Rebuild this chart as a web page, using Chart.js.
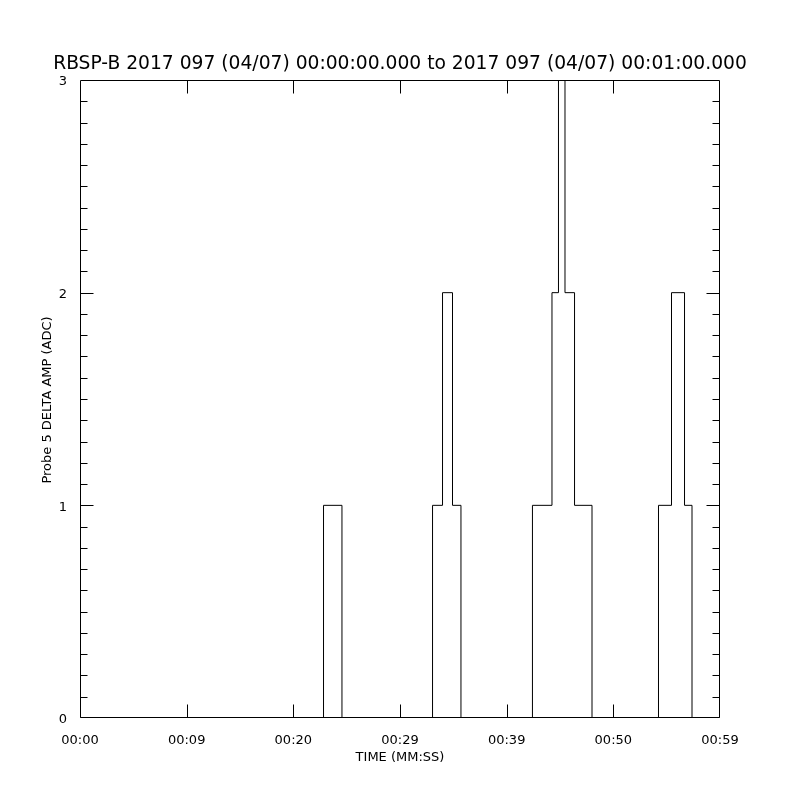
<!DOCTYPE html>
<html>
<head>
<meta charset="UTF-8">
<title>RBSP-B Probe 5 DELTA AMP</title>
<style>
body {
	margin: 0;
	background: white;
}
</style>
<script src="https://cdn.jsdelivr.net/npm/chart.js@4.4.0/dist/chart.umd.min.js"></script>
</head>
<body>
	<canvas id="myChart" width="800" height="800"></canvas>

	<script>
		// step start times (seconds after 00:00:00) and the value held from each one on
		var stepTimes = [0, 22.45, 24.15, 32.50, 33.42, 34.34, 35.12, 41.71, 43.51, 44.11, 44.71, 45.59, 47.20, 53.33, 54.53, 55.73, 56.42, 59];
		var stepValues = [0, 1, 0, 1, 2, 1, 0, 1, 2, 3, 2, 1, 0, 1, 2, 1, 0, 0];

		var xMax = 59;
		var xTickLabels = ["00:00", "00:09", "00:20", "00:29", "00:39", "00:50", "00:59"];
		var yTickLabels = ["0", "1", "2", "3"];

		var titleText = "RBSP-B 2017 097 (04/07) 00:00:00.000 to 2017 097 (04/07) 00:01:00.000";
		var xTitle = "TIME (MM:SS)";
		var yTitle = "Probe 5 DELTA AMP (ADC)";

		// value i holds from stepTimes[i] until stepTimes[i+1]
		var points = [];
		for (var i = 0; i < stepTimes.length; i++) {
			points.push({ x: stepTimes[i], y: stepValues[i] });
		}

		// box, inward ticks on all sides and the titles (IDL style)
		var idlBox = {
			id: "idlBox",
			afterDraw: function(chart) {
				var ctx = chart.ctx;
				var a = chart.chartArea;
				var xs = chart.scales.x;
				var ys = chart.scales.y;
				var L = Math.round(a.left) + 0.5, R = Math.round(a.right) - 0.5;
				var T = Math.round(a.top) + 0.5, B = Math.round(a.bottom) - 0.5;
				ctx.save();
				ctx.strokeStyle = "#000";
				ctx.lineWidth = 1;
				ctx.beginPath();
				ctx.rect(L, T, R - L, B - T);
				// y ticks, minor every 0.1
				for (var k = 1; k < 30; k++) {
					var py = Math.round(ys.getPixelForValue(k / 10)) + 0.5;
					var len = (k % 10 == 0) ? 13 : 7;
					ctx.moveTo(L, py); ctx.lineTo(L + len, py);
					ctx.moveTo(R, py); ctx.lineTo(R - len, py);
				}
				// x ticks
				for (var j = 1; j < xTickLabels.length - 1; j++) {
					var px = Math.round(xs.getPixelForValue(j * xMax / (xTickLabels.length - 1))) + 0.5;
					ctx.moveTo(px, B); ctx.lineTo(px, B - 13);
					ctx.moveTo(px, T); ctx.lineTo(px, T + 13);
				}
				ctx.stroke();

				ctx.fillStyle = "#000";
				ctx.textAlign = "center";
				ctx.textBaseline = "middle";
				ctx.font = "18.7px 'DejaVu Sans'";
				ctx.fillText(titleText, 400, 64);
				ctx.font = "13px 'DejaVu Sans'";
				ctx.fillText(xTitle, 400, 758);
				ctx.translate(48, 400);
				ctx.rotate(-Math.PI / 2);
				ctx.fillText(yTitle, 0, 0);
				ctx.restore();
			}
		};

		var ctx = document.getElementById("myChart");
		var myChart = new Chart(ctx, {
			type: "line",
			data: {
				datasets: [{
					data: points,
					stepped: "before",
					borderColor: "#000000",
					borderWidth: 1,
					pointRadius: 0,
					fill: false
				}]
			},
			options: {
				responsive: false,
				animation: false,
				layout: { padding: { top: 80, right: 80, left: 0, bottom: 0 } },
				plugins: {
					legend: { display: false },
					tooltip: { enabled: false }
				},
				scales: {
					x: {
						type: "linear",
						min: 0,
						max: xMax,
						grid: { display: false },
						border: { display: false },
						afterBuildTicks: function(scale) {
							scale.ticks = xTickLabels.map(function(l, i) {
								return { value: i * xMax / (xTickLabels.length - 1) };
							});
						},
						afterFit: function(scale) { scale.height = 82; },
						ticks: {
							autoSkip: false,
							maxRotation: 0,
							padding: 7,
							color: "#000",
							font: { family: "DejaVu Sans", size: 13 },
							callback: function(v, i) { return xTickLabels[i]; }
						}
					},
					y: {
						min: 0,
						max: 3,
						grid: { display: false },
						border: { display: false },
						afterFit: function(scale) { scale.width = 80; },
						ticks: {
							stepSize: 1,
							padding: 5,
							labelOffset: 2,
							color: "#000",
							font: { family: "DejaVu Sans", size: 13 },
							callback: function(v, i) { return yTickLabels[i]; }
						}
					}
				}
			},
			plugins: [idlBox]
		});
	</script>
</body>
</html>
